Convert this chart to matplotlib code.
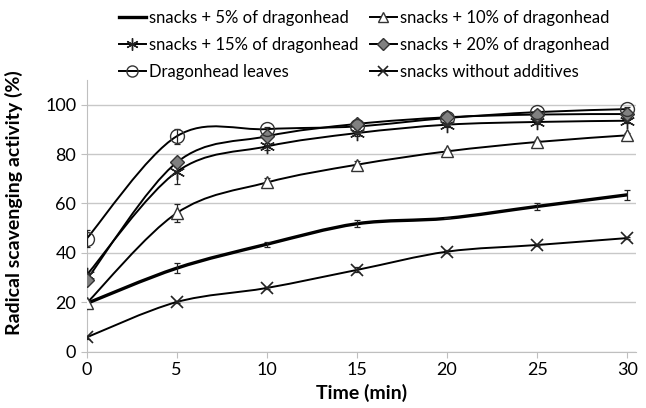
import numpy as np
import matplotlib
matplotlib.use("Agg")
import matplotlib.pyplot as plt
from matplotlib.path import Path
from matplotlib.patches import PathPatch
from matplotlib.lines import Line2D

plt.rcParams['font.family'] = ['Lato', 'DejaVu Sans']

# data
time = [0, 5, 10, 15, 20, 25, 30]
snacks5 = [19.5, 33.8, 43.5, 51.8, 54.0, 58.8, 63.5]
snacks10 = [19.6, 56.1, 68.5, 75.7, 81.1, 84.9, 87.6]
snacks15 = [31.0, 72.8, 83.1, 88.5, 91.9, 93.0, 93.5]
snacks20 = [29.1, 76.6, 87.2, 92.2, 94.9, 96.0, 96.2]
leaves = [45.7, 87.2, 90.1, 91.2, 94.6, 97.0, 98.2]
plain = [5.8, 20.1, 25.8, 33.1, 40.5, 43.2, 46.0]

err5 = [0.8, 2.0, 1.0, 1.5, 0.0, 1.5, 2.0]
err10 = [1.0, 3.5, 2.0, 1.5, 1.0, 1.0, 1.0]
err15 = [1.0, 5.0, 1.5, 1.0, 1.0, 1.0, 1.0]
err20 = [1.0, 2.0, 1.0, 1.0, 1.0, 1.0, 1.0]
err_leaves = [3.5, 3.0, 1.0, 1.0, 1.0, 1.0, 1.0]
err_plain = [0.5, 0.5, 0.5, 1.0, 0.5, 0.5, 0.5]

labels = ['snacks + 5% of dragonhead', 'snacks + 10% of dragonhead',
          'snacks + 15% of dragonhead', 'snacks + 20% of dragonhead',
          'Dragonhead leaves', 'snacks without additives']


def smooth_path(x, y):
    # excel-like smoothed line, bezier segments
    p = np.column_stack([x, y]).astype(float)
    n = len(p)
    verts = [p[0]]
    codes = [Path.MOVETO]
    for i in range(n - 1):
        p0 = p[i - 1] if i > 0 else p[i]
        p3 = p[i + 2] if i + 2 < n else p[i + 1]
        c1 = p[i] + (p[i + 1] - p0) / 6
        c2 = p[i + 1] - (p3 - p[i]) / 6
        verts += [c1, c2, p[i + 1]]
        codes += [Path.CURVE4] * 3
    return Path(verts, codes)


fig = plt.figure(figsize=(6.46, 4.08), dpi=100)
ax = fig.add_axes([0.134, 0.138, 0.851, 0.666])

series = [
    (snacks5, err5, dict(marker='None'), 2.4),
    (snacks10, err10, dict(marker='^', ms=9, mfc='white', mec='#333333'), 1.4),
    (snacks15, err15, dict(marker=(6, 2, 0), ms=11, mec='#222222', mew=1.0), 1.4),
    (snacks20, err20, dict(marker='D', ms=7.5, mfc='#808080', mec='#333333'), 1.4),
    (leaves, err_leaves, dict(marker='o', ms=10, mfc='none', mec='#333333'), 1.4),
    (plain, err_plain, dict(marker='x', ms=9, mec='#222222', mew=1.2), 1.4),
]

handles = []
for (vals, err, mk, lw), lab in zip(series, labels):
    ax.add_patch(PathPatch(smooth_path(time, vals), fill=False, lw=lw,
                           edgecolor='black', zorder=3))
    ax.errorbar(time, vals, yerr=err, fmt='none', ecolor='#222222',
                elinewidth=0.9, capsize=2.5, capthick=0.9, zorder=4)
    ax.plot(time, vals, ls='none', zorder=5, **mk)
    handles.append(Line2D([], [], color='black', lw=lw, **mk))

ax.set_xlim(0, 30.5)
ax.set_ylim(0, 110)
ax.set_xticks(range(0, 31, 5))
ax.set_yticks(range(0, 101, 20))
ax.grid(axis='y', color='#c8c8c8', lw=1)
ax.set_axisbelow(True)
for s in ['top', 'right']:
    ax.spines[s].set_visible(False)
for s in ['left', 'bottom']:
    ax.spines[s].set_color('#bfbfbf')
ax.tick_params(colors='#bfbfbf', labelcolor='black', labelsize=13, length=4)
ax.set_xlabel('Time (min)', fontsize=14, fontweight='bold')
ax.set_ylabel('Radical scavenging activity (%)', fontsize=14, fontweight='bold')
ax.yaxis.set_label_coords(-0.115, 0.55)

order = [0, 2, 4, 1, 3, 5]
fig.legend([handles[i] for i in order], [labels[i] for i in order],
           loc='upper left', bbox_to_anchor=(0.166, 1.005), ncol=2,
           frameon=False, fontsize=12, handlelength=1.6, handletextpad=0.2,
           labelspacing=0.68, columnspacing=0.7, markerscale=0.8, borderpad=0.2)

fig.savefig('out.png', dpi=100)
